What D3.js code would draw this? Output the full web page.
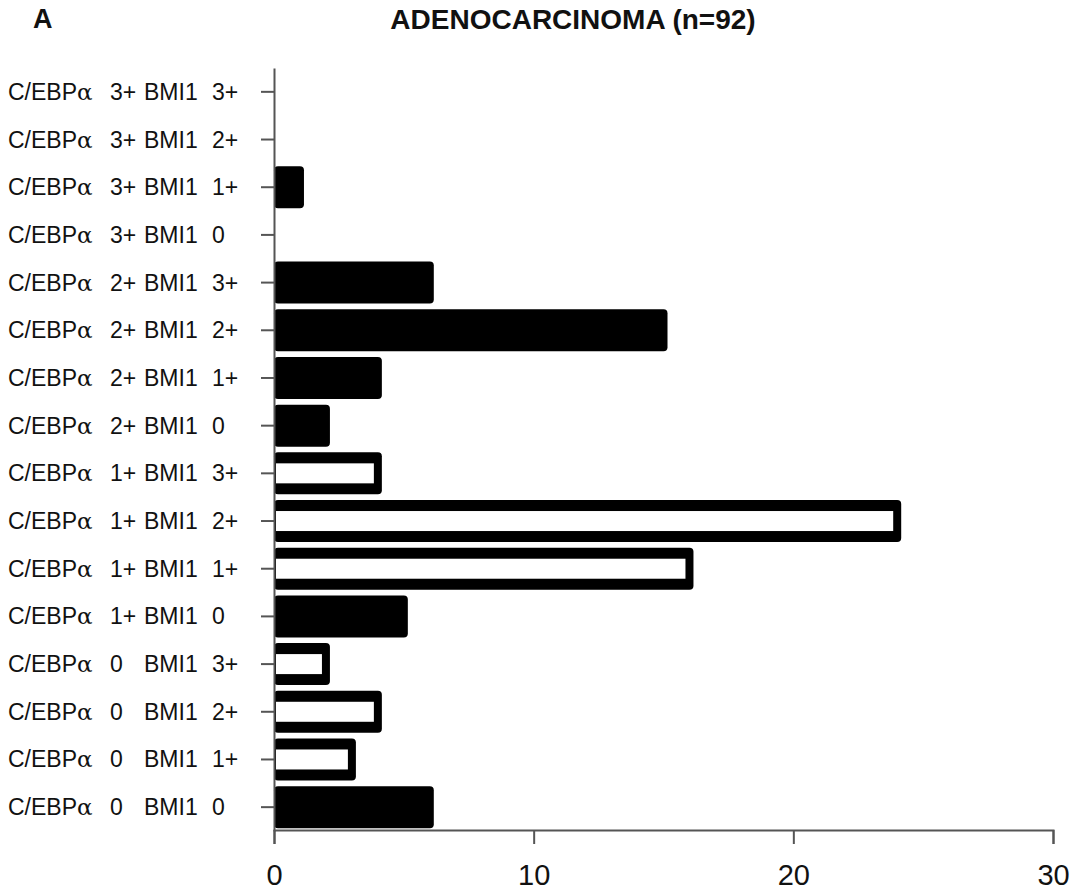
<!DOCTYPE html>
<html>
<head>
<meta charset="utf-8">
<script src="https://cdn.jsdelivr.net/npm/d3@7"></script>
<style>
  body { margin: 0; background: #fff; }
  svg text { font-family: Arial, "Liberation Sans", Helvetica, sans-serif; fill: #111; }
</style>
</head>
<body>
<svg id="chart"></svg>
<script>
// data, top row to bottom row
const cebpLevels = ["3+","3+","3+","3+","2+","2+","2+","2+","1+","1+","1+","1+","0","0","0","0"];
const bmiLevels  = ["3+","2+","1+","0","3+","2+","1+","0","3+","2+","1+","0","3+","2+","1+","0"];
const counts     = [0, 0, 1, 0, 6, 15, 4, 2, 4, 24, 16, 5, 2, 4, 3, 6];
const xTicks = [0, 10, 20, 30];
const title = "ADENOCARCINOMA (n=92)";
const panel = "A";

const width = 1074, height = 890;
const rows = counts.map((v, i) => ({id: i, cebp: cebpLevels[i], bmi: bmiLevels[i], value: v}));

// low C/EBPa with some BMI1 -> open bars
const isOpen = d => (d.cebp === "0" || d.cebp === "1+") && d.bmi !== "0";

const svg = d3.select("#chart")
    .attr("width", width)
    .attr("height", height);

const x = d3.scaleLinear()
    .domain([0, 30])
    .range([274, 1053]);

const y = d3.scaleBand()
    .domain(rows.map(d => d.id))
    .range([68, 831]);

const axisColor = "#555";
const barH = 42;

// bars (outer black shape)
const bars = rows.filter(d => d.value > 0);
svg.selectAll("rect.outer")
    .data(bars)
    .enter().append("rect")
    .attr("class", "outer")
    .attr("x", x(0))
    .attr("y", d => y(d.id) + y.bandwidth() / 2 - barH / 2)
    .attr("width", d => x(d.value) - x(0) + 4)
    .attr("height", barH)
    .attr("rx", 4)
    .attr("fill", "#000");

// white inside for open bars
svg.selectAll("rect.inner")
    .data(bars.filter(isOpen))
    .enter().append("rect")
    .attr("class", "inner")
    .attr("x", x(0) + 2)
    .attr("y", d => y(d.id) + y.bandwidth() / 2 - 10)
    .attr("width", d => x(d.value) - x(0) - 6)
    .attr("height", 20)
    .attr("fill", "#fff");

// y axis
const yAxis = svg.append("g")
    .attr("transform", `translate(${x(0)},0)`)
    .call(d3.axisLeft(y).tickSize(13).tickSizeOuter(0).tickFormat(""));
yAxis.selectAll("path, line").attr("stroke", axisColor).attr("stroke-width", 2);

// x axis
const xAxis = svg.append("g")
    .attr("transform", `translate(0,830)`)
    .call(d3.axisBottom(x).tickValues(xTicks).tickSize(14).tickSizeOuter(14).tickPadding(20));
xAxis.selectAll("path, line").attr("stroke", axisColor).attr("stroke-width", 2);
xAxis.selectAll("text")
    .style("font-size", "29px")
    .style("font-family", "Arial, 'Liberation Sans', sans-serif")
    .attr("fill", "#111");

// category labels in columns
const labels = svg.append("g");
rows.forEach(d => {
    const cy = y(d.id) + y.bandwidth() / 2 + 8;
    const t = labels.append("text")
        .attr("x", 8)
        .attr("y", cy)
        .style("font-size", "23px");
    t.append("tspan").text("C/EBP");
    t.append("tspan").style("font-family", "'DejaVu Serif', 'Liberation Serif', serif")
        .style("font-size", "23px").text("α");
    labels.append("text").attr("x", 110).attr("y", cy).style("font-size", "23px").text(d.cebp);
    labels.append("text").attr("x", 144).attr("y", cy).style("font-size", "23px").text("BMI1");
    labels.append("text").attr("x", 212).attr("y", cy).style("font-size", "23px").text(d.bmi);
});

// title and panel letter
svg.append("text")
    .attr("x", 573)
    .attr("y", 29)
    .attr("text-anchor", "middle")
    .style("font-size", "28px")
    .style("font-weight", "bold")
    .text(title);

svg.append("text")
    .attr("x", 33)
    .attr("y", 28)
    .style("font-size", "27px")
    .style("font-weight", "bold")
    .text(panel);
</script>
</body>
</html>
